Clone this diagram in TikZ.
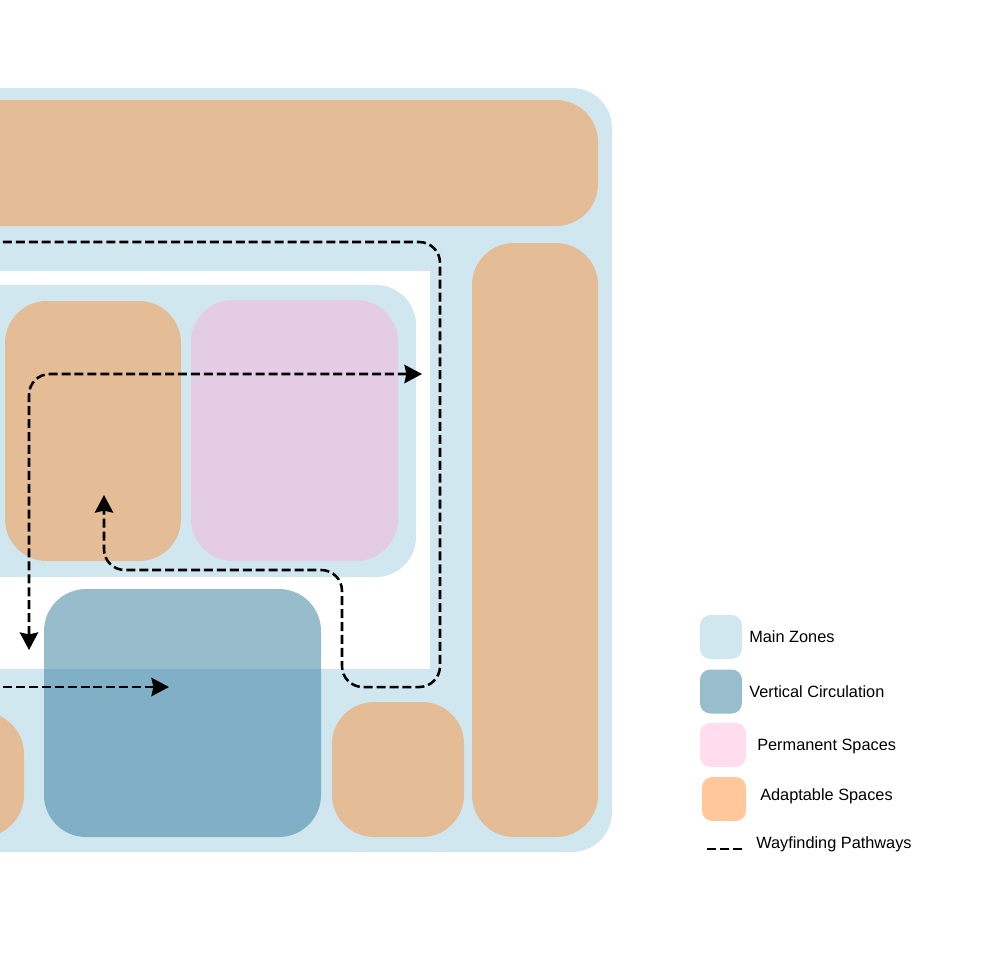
\documentclass[tikz,border=0pt]{standalone}
\usepackage{fontspec}
\setmainfont{Liberation Sans}
\usetikzlibrary{arrows.meta}
\definecolor{zoneblue}{RGB}{209,231,240}
\definecolor{adaptorange}{RGB}{228,188,150}
\definecolor{permpink}{RGB}{227,204,228}
\definecolor{circblue}{RGB}{49,123,155}
\definecolor{keyorange}{RGB}{254,200,154}
\definecolor{keypink}{RGB}{255,221,238}
\begin{document}
\begin{tikzpicture}[x=0.025cm, y=-0.025cm, font=\fontsize{11.6}{14}\selectfont,
  >={Stealth[length=0.44cm, width=0.46cm, inset=0.05cm]},
  zone/.style={fill=zoneblue, rounded corners=1cm},
  adapt/.style={fill=adaptorange, rounded corners=1.05cm},
  perm/.style={fill=permpink, rounded corners=1.05cm},
  vcirc/.style={fill=circblue, fill opacity=0.5, rounded corners=1.05cm},
  wayfind/.style={line width=1.8pt, dash pattern=on 6.4pt off 2.8pt, rounded corners=0.52cm},
  swatch/.style={minimum width=1.05cm, minimum height=1.1cm, rounded corners=0.26cm, inner sep=0pt},
  lbl/.style={anchor=base west, inner sep=0pt}]
  % pixels of the 991x976 sheet, y downward
  \useasboundingbox (0,0) rectangle (991,976);
  \clip (0,0) rectangle (991,976);
  % floor plate
  \fill[zone] (-60,88) rectangle (612,852);
  \fill[adapt] (-60,100) rectangle (598,226);
  \fill[adapt] (472,243) rectangle (598,837);
  % open well with the core zone in it
  \fill[white] (-60,271) rectangle (430,669);
  \fill[zone] (-60,285) rectangle (416,577);
  \fill[adapt] (5,301) rectangle (181,561);
  \fill[perm] (191,300) rectangle (398,561);
  % lower row
  \fill[adapt] (-120,712) rectangle (24,837);
  \fill[adapt] (332,702) rectangle (464,837);
  \fill[vcirc] (44,589) rectangle (321,837);
  % wayfinding
  \coordinate (w1s) at (-10,242);
  \coordinate (w1e) at (104,495);
  \coordinate (w2a) at (422,374);
  \coordinate (w2b) at (29,650);
  \coordinate (w3s) at (-10,687);
  \coordinate (w3e) at (169,687);
  \draw[wayfind, ->] (w1s) -| (440,687) -| (342,570) -| (w1e);
  \draw[wayfind, <->] (w2b) |- (w2a);
  \draw[wayfind, ->] (w3s) -- (w3e);
  % key
  \node[swatch, fill=zoneblue] (k1) at (721,637) {};
  \node[swatch, fill=circblue, fill opacity=0.5] (k2) at (721,691.5) {};
  \node[swatch, fill=keypink, minimum width=1.15cm] (k3) at (723,745) {};
  \node[swatch, fill=keyorange, minimum width=1.1cm] (k4) at (724,799) {};
  \coordinate (k5a) at (707,849);
  \coordinate (k5b) at (742,849);
  \draw[wayfind] (k5a) -- (k5b);
  \node[lbl] (t1) at (749,642) {Main Zones};
  \node[lbl] (t2) at (749,697) {Vertical Circulation};
  \node[lbl] (t3) at (757,750) {Permanent Spaces};
  \node[lbl] (t4) at (760,800) {Adaptable Spaces};
  \node[lbl] (t5) at (756,848) {Wayfinding Pathways};
\end{tikzpicture}
\end{document}
